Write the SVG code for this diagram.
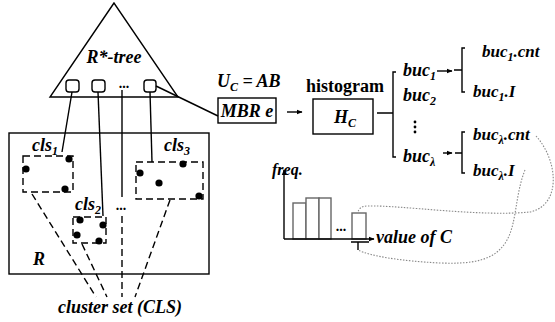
<svg xmlns="http://www.w3.org/2000/svg" width="555" height="322" viewBox="0 0 555 322">
<defs>
<style>
.t{font-family:"Liberation Serif","Times New Roman",serif;font-weight:bold;font-style:italic;font-size:18px;fill:#000}
.tu{font-family:"Liberation Serif","Times New Roman",serif;font-weight:bold;font-size:18px;fill:#000}
.m{font-size:17px}
.s{font-size:12px}
.ln{stroke:#000;stroke-width:1.4;fill:none}
.box{stroke:#000;stroke-width:1.4;fill:#fff}
.dash{stroke:#000;stroke-width:1.4;fill:none;stroke-dasharray:7,4}
.dot{fill:#000}
.bar{stroke:#666;stroke-width:1.4;fill:#fff}
.dotted{stroke:#888;stroke-width:1.1;fill:none;stroke-dasharray:1.5,1.5}
</style>
<marker id="ah" viewBox="0 0 10 10" refX="9" refY="5" markerUnits="userSpaceOnUse" markerWidth="6" markerHeight="6" orient="auto">
<path d="M0,1 L10,5 L0,9 z" fill="#000"/>
</marker>
</defs>

<g id="rtree">
<polygon points="114,3 50,97 178,97" class="ln"/>
<rect x="66" y="80" width="13" height="12" rx="3" class="box"/>
<rect x="92" y="80" width="13" height="12" rx="3" class="box"/>
<rect x="144" y="80" width="12" height="12" rx="3" class="box"/>
<text x="114" y="63" class="t" text-anchor="middle">R*-tree</text>
<text x="124" y="88" class="tu" font-size="14" style="font-size:14px" text-anchor="middle">...</text>
</g>

<g id="regionR">
<rect x="9" y="133" width="200" height="141" class="ln"/>
<text x="33" y="265" class="t">R</text>
</g>

<g id="cls1">
<text x="32" y="151" class="t">cls<tspan class="s" dy="4">1</tspan></text>
<rect x="23" y="156" width="50" height="36" class="dash"/>
<circle cx="26" cy="169" r="3.6" class="dot"/>
<circle cx="69" cy="159" r="3.6" class="dot"/>
<circle cx="65" cy="189" r="3.6" class="dot"/>
</g>

<g id="cls2">
<text x="75" y="210" class="t">cls<tspan class="s" dy="4">2</tspan></text>
<rect x="73" y="217" width="33" height="26" class="dash"/>
<circle cx="80" cy="220" r="3.6" class="dot"/>
<circle cx="103" cy="225" r="3.6" class="dot"/>
<circle cx="77" cy="235" r="3.6" class="dot"/>
<circle cx="99" cy="241" r="3.6" class="dot"/>
</g>

<g id="clsdots">
<text x="121" y="210" class="tu" style="font-size:14px" text-anchor="middle">...</text>
</g>

<g id="cls3">
<text x="164" y="151" class="t">cls<tspan class="s" dy="4">3</tspan></text>
<rect x="136" y="162" width="67" height="37" class="dash"/>
<circle cx="183" cy="164" r="3.6" class="dot"/>
<circle cx="140" cy="173" r="3.6" class="dot"/>
<circle cx="159" cy="183" r="3.6" class="dot"/>
<circle cx="199" cy="196" r="3.6" class="dot"/>
</g>

<g id="clsset">
<text x="120" y="313" class="t" text-anchor="middle">cluster set (CLS)</text>
</g>

<g id="mbr">
<text x="217" y="87" class="t">U<tspan class="s" dy="4">C</tspan><tspan dy="-4"> = AB</tspan></text>
<rect x="218" y="98" width="58" height="25" class="box"/>
<text x="247" y="117" class="t" text-anchor="middle">MBR e</text>
</g>

<g id="hist">
<text x="345" y="92" class="tu" text-anchor="middle">histogram</text>
<rect x="313" y="99" width="60" height="35" class="box"/>
<text x="334" y="123" class="t">H<tspan class="s" dy="4">C</tspan></text>
</g>

<g id="buckets">
<text x="403" y="76" class="t">buc<tspan class="s" dy="4">1</tspan></text>
<text x="403" y="101" class="t">buc<tspan class="s" dy="4">2</tspan></text>
<text x="403" y="162" class="t">buc<tspan class="s" dy="4">λ</tspan></text>
<circle cx="415" cy="122" r="1.4" class="dot"/>
<circle cx="415" cy="127" r="1.4" class="dot"/>
<circle cx="415" cy="132" r="1.4" class="dot"/>
</g>

<g id="buc1detail">
<text x="482" y="57" class="t m">buc<tspan class="s" dy="4">1</tspan><tspan dy="-4">.cnt</tspan></text>
<text x="473" y="97" class="t m">buc<tspan class="s" dy="4">1</tspan><tspan dy="-4">.I</tspan></text>
</g>

<g id="buclamdetail">
<text x="473" y="140" class="t m">buc<tspan class="s" dy="4">λ</tspan><tspan dy="-4">.cnt</tspan></text>
<text x="473" y="176" class="t m">buc<tspan class="s" dy="4">λ</tspan><tspan dy="-4">.I</tspan></text>
</g>

<g id="chart">
<text x="272" y="175" class="t" style="font-size:16px">freq.</text>
<rect x="293" y="203" width="13" height="36" class="bar"/>
<rect x="306" y="198" width="13" height="41" class="bar"/>
<rect x="319" y="198" width="12" height="41" class="bar"/>
<rect x="352" y="213" width="14" height="26" class="bar"/>
<text x="341" y="231" class="tu" style="font-size:14px" text-anchor="middle">...</text>
<line x1="284" y1="239" x2="284" y2="170" class="ln" marker-end="url(#ah)"/>
<line x1="284" y1="239" x2="374" y2="239" class="ln" marker-end="url(#ah)"/>
<path d="M351,242 H369 M358,242 V250" class="ln"/>
<text x="376" y="243" class="t">value of C</text>
</g>

<g id="connectors">
<line x1="72" y1="92" x2="62" y2="152" class="ln"/>
<line x1="98" y1="92" x2="103" y2="216" class="ln"/>
<line x1="122" y1="90" x2="122" y2="197" class="ln"/>
<line x1="150" y1="92" x2="152" y2="162" class="ln"/>
<line x1="156" y1="86" x2="218" y2="116" class="ln"/>
<line x1="32" y1="194" x2="96" y2="297" class="dash"/>
<line x1="82" y1="244" x2="107" y2="297" class="dash"/>
<line x1="122" y1="216" x2="122" y2="297" class="dash"/>
<line x1="170" y1="200" x2="135" y2="297" class="dash"/>
<line x1="287" y1="112" x2="302" y2="112" class="ln" marker-end="url(#ah)"/>
<path d="M377,113 H393 M396,72 H393 V157 H396" class="ln"/>
<line x1="437" y1="71" x2="452" y2="71" class="ln" marker-end="url(#ah)"/>
<path d="M454,70 H462 M465,48 H462 V92 H465" class="ln"/>
<line x1="443" y1="153" x2="452" y2="153" class="ln" marker-end="url(#ah)"/>
<path d="M455,153 H462 M465,132 H462 V173 H465" class="ln"/>
<path d="M536,136 C558,160 562,205 530,212 C480,217 400,205 368,206 C362,206 359,208 358,212" class="dotted"/>
<path d="M525,170 C515,195 517,222 507,240 C495,262 470,264 440,263 C400,261 370,256 358,250" class="dotted"/>
</g>
</svg>
